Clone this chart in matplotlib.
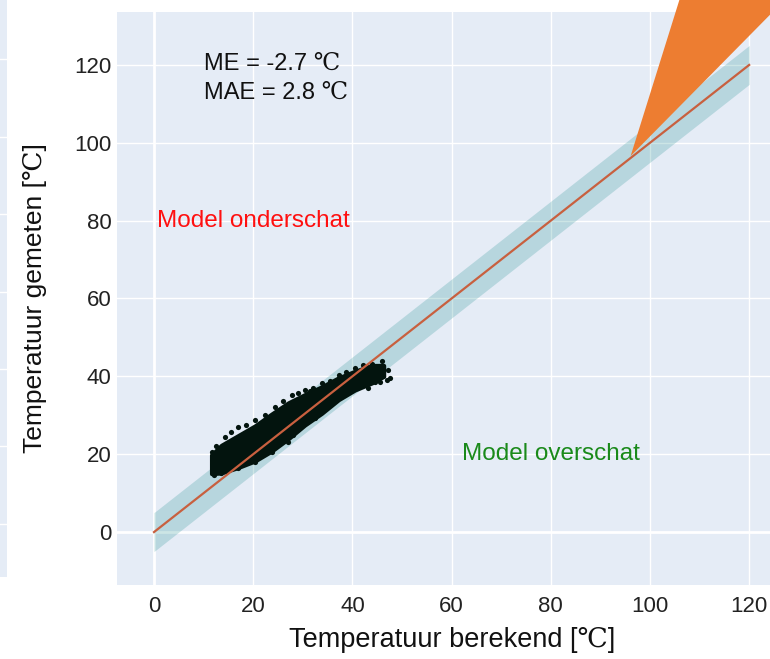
import matplotlib
matplotlib.use("Agg")
import matplotlib.pyplot as plt
from matplotlib.patches import Polygon

# ---- data ----
# dense core of the scatter cloud (computed temp, measured low/high)
core_x  = [11.6, 13.6, 17.0, 20.4, 23.7, 27.1, 30.4, 33.8, 37.2, 40.5, 43.9, 46.3]
core_hi = [19.8, 22.3, 24.8, 27.3, 30.3, 33.2, 35.3, 37.3, 39.6, 41.3, 42.8, 42.8]
core_lo = [15.0, 15.2, 16.6, 18.3, 20.8, 24.0, 27.5, 30.5, 34.0, 36.5, 38.3, 40.0]

# loose points at the edge of the cloud
pts_x = [11.6, 12.6, 14.3, 15.6, 17.0, 18.6, 20.4, 22.4, 24.4, 26.0, 27.8, 29.0,
         30.4, 32.0, 33.8, 35.5, 37.2, 38.8, 40.5, 42.2, 43.9, 45.9, 47.2, 47.6,
         46.2, 44.6, 43.2, 41.8, 38.5, 35.8, 32.5, 29.1, 27.1, 25.5, 23.7, 22.0,
         20.4, 17.0, 13.6, 12.0, 28.0, 31.5, 45.6, 47.0]
pts_y = [20.6, 22.0, 24.5, 25.8, 27.1, 27.6, 28.8, 30.0, 32.2, 33.6, 35.2, 35.6,
         36.5, 37.0, 38.2, 38.7, 40.3, 41.0, 42.1, 42.8, 43.3, 43.9, 41.6, 39.5,
         40.2, 38.6, 37.1, 37.6, 36.9, 33.5, 29.2, 26.6, 23.2, 24.0, 20.6, 21.2,
         18.1, 16.4, 15.1, 14.6, 25.0, 36.3, 38.6, 39.1]

# perfect-fit line and ±5 °C band
line_x = [0, 120]
band_width = 5

# orange wedge vertices (data coords)
wedge_x = [96.1, 110.0, 140.0]
wedge_y = [96.6, 153.3, 153.3]

xticks = [0, 20, 40, 60, 80, 100, 120]
yticks = [0, 20, 40, 60, 80, 100, 120]

me_text = "ME = -2.7 \u2103"
mae_text = "MAE = 2.8 \u2103"

# neighbouring chart fragment on the far left (gridline pixel rows)
strip_grid = [59, 137, 214, 292, 369, 446, 524]

# ---- figure ----
W, H = 770, 659
fig = plt.figure(figsize=(W / 100, H / 100), dpi=100)
fig.patch.set_facecolor("white")

BG = "#E5ECF6"
sans = ["Liberation Sans", "DejaVu Sans"]
deg = ["Liberation Sans", "DejaVu Serif"]

# left strip
sx = fig.add_axes([0, 1 - 577 / H, 7 / W, 577 / H])
sx.set_facecolor(BG)
sx.set_xlim(0, 1)
sx.set_ylim(577, 0)
for g in strip_grid:
    sx.axhline(g, color="white", lw=1)
sx.set_xticks([]); sx.set_yticks([])
for s in sx.spines.values():
    s.set_visible(False)

ax = fig.add_axes([117 / W, 1 - 585 / H, 1 - 117 / W, (585 - 12) / H])
ax.set_facecolor(BG)
ax.set_xlim(-7.46, 124.2)
ax.set_ylim(-13.6, 133.6)
ax.set_xticks(xticks)
ax.set_yticks(yticks)
ax.grid(True, color="white", lw=1)
ax.set_axisbelow(True)
ax.axhline(0, color="white", lw=2, zorder=0.5)
ax.axvline(0, color="white", lw=2, zorder=0.5)
for s in ax.spines.values():
    s.set_visible(False)
ax.tick_params(length=0, labelsize=16, pad=4)
ax.tick_params(axis="x", pad=8)
for lab in ax.get_xticklabels() + ax.get_yticklabels():
    lab.set_family(sans)
    lab.set_color("#222222")

# band
bx = line_x
ax.fill_between(bx, [v - band_width for v in bx], [v + band_width for v in bx],
                color="teal", alpha=0.2, lw=0, zorder=1)

# scatter cloud
dark = "#03140e"
ax.fill_between(core_x, core_lo, core_hi, color=dark, lw=3, edgecolor=dark,
                joinstyle="round", zorder=2)
ax.scatter(pts_x, pts_y, s=14, color=dark, lw=0, zorder=2)

# 1:1 line
ax.plot(line_x, line_x, color="#C8603F", lw=1.6, zorder=3)

# orange wedge
wedge = Polygon(list(zip(wedge_x, wedge_y)), closed=True, facecolor="#ED7D31",
                edgecolor="none", clip_on=False, zorder=4)
ax.add_patch(wedge)

# annotations
ax.text(10, 120.2, me_text, fontsize=17, family=deg, color="#111111", va="center", ha="left")
ax.text(10, 112.8, mae_text, fontsize=17, family=deg, color="#111111", va="center", ha="left")
ax.text(20, 80, "Model onderschat", fontsize=17.5, family=sans, color="#FF1010", va="center", ha="center")
ax.text(80, 20, "Model overschat", fontsize=17.5, family=sans, color="#1a8a1a", va="center", ha="center")

ax.set_xlabel("Temperatuur berekend [\u2103]", fontsize=19.5, family=deg, color="#111111")
ax.set_ylabel("Temperatuur gemeten [\u2103]", fontsize=19, family=deg, color="#111111")
ax.xaxis.set_label_coords((452 - 117) / (W - 117), -(640 - 585) / (585 - 12), transform=ax.transAxes)
ax.xaxis.label.set_va("center")
ax.yaxis.set_label_coords(-(117 - 35) / (W - 117), (532 - 298) / (585 - 12) * 0 + (585 - 298) / (585 - 12))
ax.yaxis.label.set_va("center")

fig.savefig("out.png", dpi=100)
